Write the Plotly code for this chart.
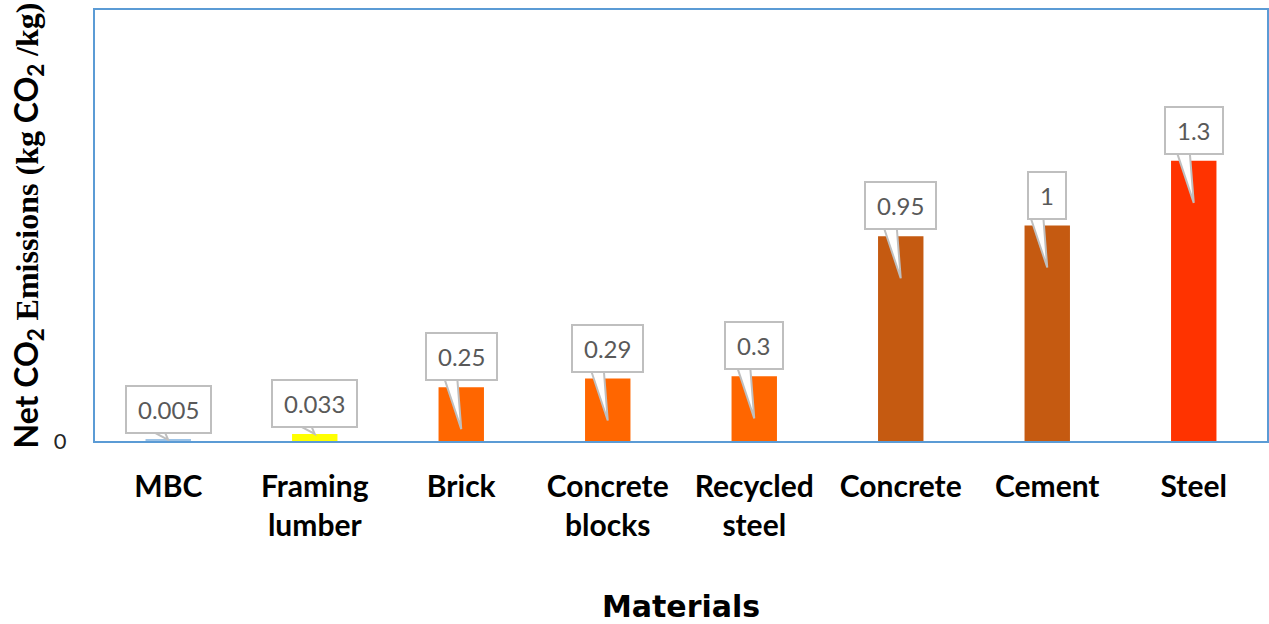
import plotly.graph_objects as go

# chart data
materials = ["MBC", "Framing<br>lumber", "Brick", "Concrete<br>blocks",
             "Recycled<br>steel", "Concrete", "Cement", "Steel"]
emissions = [0.005, 0.033, 0.25, 0.29, 0.3, 0.95, 1.0, 1.3]
value_labels = ["0.005", "0.033", "0.25", "0.29", "0.3", "0.95", "1", "1.3"]
bar_colors = ["#9DC3E6", "#FFFF00", "#FF6600", "#FF6600", "#FF6600",
              "#C55A11", "#C55A11", "#FF3300"]
y_max = 2.0

SANS = "Lato"
SERIF = "Liberation Serif"
CALLOUT_GRAY = "#BFBFBF"

fig = go.Figure()
fig.add_trace(go.Bar(
    x=list(range(len(materials))),
    y=emissions,
    marker=dict(color=bar_colors, line=dict(width=0)),
    showlegend=False,
    hoverinfo="skip",
))

# callout boxes with a little wedge pointing into each bar
gap = 6
for i, (v, lab) in enumerate(zip(emissions, value_labels)):
    fig.add_annotation(
        x=i, y=v, xref="x", yref="y",
        text="\u2009" + lab + "\u2009", showarrow=False,
        yanchor="bottom", yshift=gap,
        font=dict(family=SANS, size=24, color="#595959"),
        bgcolor="white", bordercolor=CALLOUT_GRAY,
        borderwidth=2, borderpad=8,
    )
    tip = -42 if v >= 0.2 else 0
    fig.add_shape(
        type="path", xref="x", yref="y",
        xsizemode="pixel", ysizemode="pixel",
        xanchor=i, yanchor=v,
        path=f"M -17,{gap + 3} L 0,{tip} L -4,{gap + 3}",
        fillcolor="white",
        line=dict(color=CALLOUT_GRAY, width=2),
        layer="above",
    )

ytitle = (f"Net CO<sub>2</sub> <span style='font-family:{SERIF}'>Emissions (kg</span>"
          f" CO<sub>2</sub> <span style='font-family:{SERIF}'>/kg)</span>")
fig.add_annotation(
    xref="paper", yref="paper", x=-0.058, y=0.5,
    text=ytitle, textangle=-90, showarrow=False,
    xanchor="center", yanchor="middle",
    font=dict(family=SANS, size=32, color="black", weight="bold"),
)

fig.update_layout(
    width=1269, height=624,
    margin=dict(l=95, r=2, t=10, b=183, autoexpand=False),
    paper_bgcolor="white", plot_bgcolor="white",
    bargap=0.69,
    xaxis=dict(
        tickmode="array", tickvals=list(range(len(materials))), ticktext=materials,
        range=[-0.5, len(materials) - 0.5], automargin=False,
        showline=True, mirror=True, linecolor="#5B9BD5", linewidth=2,
        showgrid=False, ticks="", ticklabelstandoff=18,
        tickfont=dict(family=SANS, size=30, color="black", weight="bold"),
        title=dict(text="Materials", standoff=68,
                   font=dict(family="DejaVu Sans", size=30, color="black", weight="bold")),
    ),
    yaxis=dict(
        range=[0, y_max], tickvals=[0], ticktext=["0"], automargin=False,
        showline=True, mirror=True, linecolor="#5B9BD5", linewidth=2,
        showgrid=False, zeroline=False, ticks="", ticklabelstandoff=22,
        tickfont=dict(family=SANS, size=22, color="#262626"),
    ),
)

# page margin off so the figure fills the window exactly
fig.write_html("out.html", config={"displayModeBar": False},
               post_script="document.body.style.margin='0';")
